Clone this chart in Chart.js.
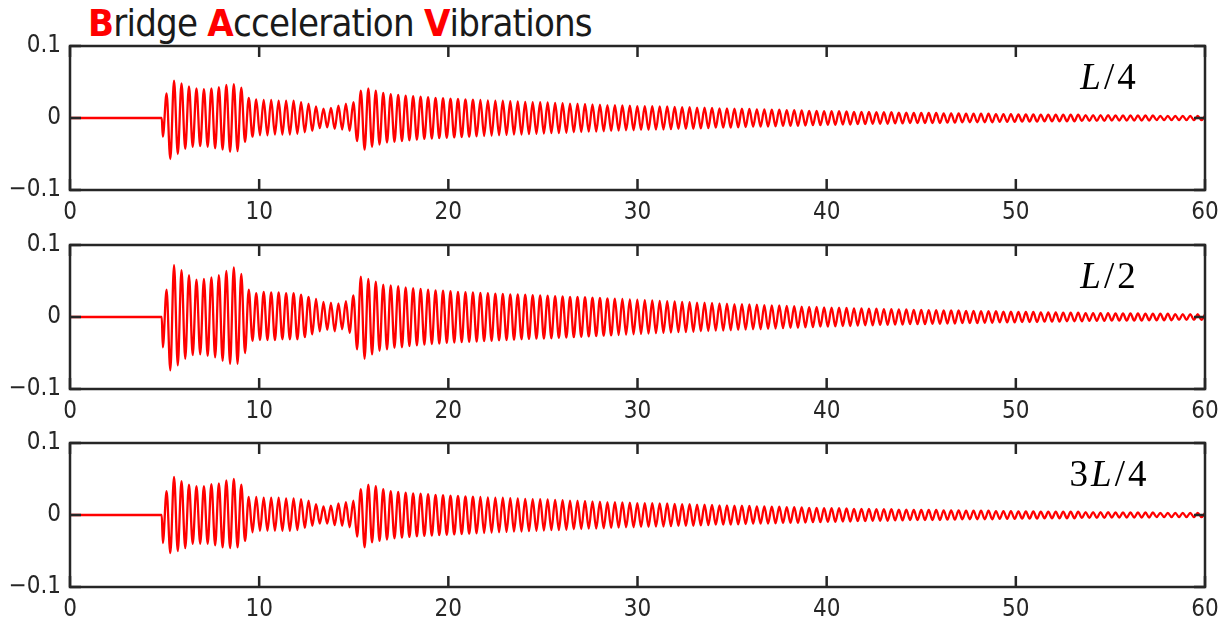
<!DOCTYPE html>
<html>
<head>
<meta charset="utf-8">
<script src="https://cdn.jsdelivr.net/npm/chart.js@4.4.1/dist/chart.umd.min.js"></script>
<style>
  html, body { margin: 0; padding: 0; background: #fff; }
  body { width: 1223px; height: 622px; position: relative; overflow: hidden; }
  #title {
    position: absolute; left: 88px; top: 4px; line-height: 1;
    font-family: 'Liberation Sans Narrow', 'DejaVu Sans Condensed', sans-serif;
    font-size: 38px; letter-spacing: -0.8px; color: #1a1a1a; white-space: nowrap;
  }
  #title b { color: #ff0000; }
  canvas { position: absolute; left: 0; display: block; }
</style>
</head>
<body>
<div id="title"><b>B</b>ridge <b>A</b>cceleration <b>V</b>ibrations</div>
<canvas id="c0" width="1223" height="200"></canvas>
<canvas id="c1" width="1223" height="200"></canvas>
<canvas id="c2" width="1223" height="200"></canvas>
<script>
// time axis of the record (s)
const xTicks = [0, 10, 20, 30, 40, 50, 60];
const yTicks = [-0.1, 0, 0.1];
const yTickLabels = ['\u22120.1', '0', '0.1'];
const panelLabels = ['L/4', 'L/2', '3L/4'];

// flat until the first axle reaches the bridge, then one extreme every half period
const onsetTime = 4.85;
const firstPeakTime = 4.9075;
const halfPeriod = 0.1975;

// peak / trough values, in 1e-3 units
const accL4 = [
  -26, 34, -57, 52, -50, 48, -43, 44, -40, 41,
  -39, 40, -40, 41, -42, 43, -44, 46, -47, 47,
  -46, 42, -33, 28, -26, 26, -24, 25, -24, 25,
  -23, 24, -23, 24, -23, 24, -22, 22, -20, 20,
  -18, 16, -14, 13, -13, 14, -15, 17, -16, 20,
  -18, 22, -32, 38, -44, 41, -40, 38, -37, 35,
  -34, 33, -33, 32, -32, 31, -31, 30.5, -30, 29.5,
  -29, 29, -28.5, 28, -28, 27.5, -27.5, 27, -27, 26.5,
  -26.5, 26, -26, 25.5, -25.5, 25, -25, 24.5, -24.5, 24,
  -24, 24, -23.5, 23.5, -23, 23, -23, 22.5, -22.5, 22,
  -22, 22, -21.5, 21.5, -21, 21, -21, 20.5, -20.5, 20,
  -20, 20, -19.5, 19.5, -19, 19, -19, 18.5, -18.5, 18,
  -18, 18, -17.5, 17.5, -17, 17, -17, 16.5, -16.5, 16.5,
  -16.5, 16.5, -16, 16, -16, 16, -15.5, 15.5, -15, 15,
  -15, 15, -15, 14.5, -14.5, 14.5, -14, 14, -13.5, 13.5,
  -13.5, 13.5, -13.5, 13, -13, 13, -12.5, 12.5, -12, 12,
  -12, 12, -12, 11.5, -11.5, 11.5, -11, 11, -11, 11,
  -11, 10.5, -10.5, 10, -10, 10, -10, 9.5, -9.5, 9.5,
  -9.5, 9.5, -9, 9, -9, 8.5, -8.5, 8.5, -8.5, 8.5,
  -8, 8, -8, 8, -8, 8, -7.5, 7.5, -7.5, 7.5,
  -7, 7, -7, 7, -7, 7, -7, 7, -7, 6.5,
  -6.5, 6.5, -6.5, 6.5, -6, 6, -6, 6, -6, 6,
  -6, 6, -6, 5.5, -5.5, 5.5, -5.5, 5.5, -5.5, 5,
  -5, 5, -5, 5, -5, 4.5, -4.5, 4.5, -4.5, 4.5,
  -4.5, 4.5, -4.5, 4.5, -4.5, 4.5, -4, 4, -4, 4,
  -4, 4, -4, 4, -3.5, 3.5, -3.5, 3.5, -3.5, 3.5,
  -3.5, 3.5, -3.5, 3.5, -3.5, 3.5, -3, 3, -3, 3,
  -3, 3, -3, 3, -3, 3, -3, 3, -3, 3
];

const accL2 = [
  -42, 38, -74, 72, -67, 65, -58, 58, -53, 52,
  -52, 53, -54, 55, -56, 58, -61, 64, -65, 69,
  -65, 60, -50, 38, -33, 33, -32, 35, -32, 34,
  -32, 34, -31, 33, -31, 33, -31, 31, -28, 28,
  -24, 25, -20, 21, -18, 20, -20, 19, -17, 22,
  -22, 30, -45, 56, -58, 53, -52, 49, -47, 45,
  -45, 44, -43, 43, -42, 41, -40.5, 40, -39.5, 39,
  -38.5, 38, -37.5, 37, -37, 36.5, -36, 36, -35.5, 35,
  -35, 34.5, -34.5, 34, -34, 33.5, -33.5, 33, -33, 32.5,
  -32.5, 32, -32, 31.5, -31.5, 31.5, -31, 31, -30.5, 30.5,
  -30, 30, -30, 29.5, -29.5, 29, -29, 28.5, -28.5, 28,
  -28, 28, -27.5, 27.5, -27, 27, -26.5, 26.5, -26, 26,
  -25.5, 25.5, -25, 25, -24.5, 24.5, -24, 24, -23.5, 23.5,
  -23, 23, -22.5, 22.5, -22, 22, -21.5, 21.5, -21, 21,
  -21, 20.5, -20.5, 20, -20, 20, -19.5, 19.5, -19, 19,
  -19, 18.5, -18.5, 18, -18, 18, -17.5, 17.5, -17, 17,
  -17, 16.5, -16.5, 16, -16, 16, -15.5, 15.5, -15, 15,
  -15, 14.5, -14.5, 14, -14, 14, -13.5, 13.5, -13.5, 13,
  -13, 13, -12.5, 12.5, -12.5, 12, -12, 12, -11.5, 11.5,
  -11.5, 11.5, -11, 11, -11, 11, -10.5, 10.5, -10.5, 10.5,
  -10, 10, -10, 10, -10, 9.5, -9.5, 9.5, -9.5, 9,
  -9, 9, -9, 9, -8.5, 8.5, -8.5, 8.5, -8.5, 8,
  -8, 8, -8, 8, -7.5, 7.5, -7.5, 7.5, -7.5, 7,
  -7, 7, -7, 7, -7, 6.5, -6.5, 6.5, -6.5, 6.5,
  -6.5, 6, -6, 6, -6, 6, -6, 5.5, -5.5, 5.5,
  -5.5, 5.5, -5.5, 5.5, -5, 5, -5, 5, -5, 5,
  -5, 5, -5, 4.5, -4.5, 4.5, -4.5, 4.5, -4.5, 4.5,
  -4.5, 4, -4, 4, -4, 4, -4, 4, -4, 4
];

const acc3L4 = [
  -39, 33, -53, 53, -50, 47, -46, 42, -40, 40,
  -40, 40, -40, 43, -42, 44, -45, 48, -46, 50,
  -45, 42, -36, 25, -24, 25, -22, 24, -22, 24,
  -22, 24, -22, 23, -22, 23, -21, 22, -18, 20,
  -15, 15, -12, 12, -12, 13, -14, 16, -15, 18,
  -17, 20, -30, 36, -45, 42, -38, 40, -36, 36,
  -34, 33, -32.5, 32, -31.5, 31, -30.5, 30, -29.5, 29.5,
  -29, 29, -28.5, 28, -28, 27.5, -27.5, 27, -27, 26.5,
  -26.5, 26, -26, 25.5, -25.5, 25, -25, 24.5, -24.5, 24,
  -24, 24, -23.5, 23.5, -23, 23, -23, 22.5, -22.5, 22,
  -22, 22, -21.5, 21.5, -21, 21, -21, 20.5, -20.5, 20,
  -20, 20, -19.5, 19.5, -19, 19, -19, 18.5, -18.5, 18,
  -18, 18, -17.5, 17.5, -17, 17, -17, 16.5, -16.5, 16.5,
  -16.5, 16.5, -16, 16, -16, 16, -15.5, 15.5, -15, 15,
  -15, 15, -15, 14.5, -14.5, 14.5, -14, 14, -13.5, 13.5,
  -13.5, 13.5, -13.5, 13, -13, 13, -12.5, 12.5, -12, 12,
  -12, 12, -12, 11.5, -11.5, 11.5, -11, 11, -11, 11,
  -11, 10.5, -10.5, 10, -10, 10, -10, 9.5, -9.5, 9.5,
  -9.5, 9.5, -9, 9, -9, 8.5, -8.5, 8.5, -8.5, 8.5,
  -8, 8, -8, 8, -8, 8, -7.5, 7.5, -7.5, 7.5,
  -7, 7, -7, 7, -7, 7, -7, 7, -7, 6.5,
  -6.5, 6.5, -6.5, 6.5, -6, 6, -6, 6, -6, 6,
  -6, 6, -6, 5.5, -5.5, 5.5, -5.5, 5.5, -5.5, 5,
  -5, 5, -5, 5, -5, 4.5, -4.5, 4.5, -4.5, 4.5,
  -4.5, 4.5, -4.5, 4.5, -4.5, 4.5, -4, 4, -4, 4,
  -4, 4, -4, 4, -3.5, 3.5, -3.5, 3.5, -3.5, 3.5,
  -3.5, 3.5, -3.5, 3.5, -3.5, 3.5, -3, 3, -3, 3,
  -3, 3, -3, 3, -3, 3, -3, 3, -3, 3
];

// layout (px)
const panelTops = [46, 245, 443];
const padTop = 16;
const plotHeight = 144;
const canvasHeight = 200;
const tickLen = 11;
const axisColor = '#262626';
const tickFont = { family: "'Liberation Sans Narrow', 'DejaVu Sans Condensed', sans-serif", size: 24 };

function build_points(vals) {
  const pts = [{ x: 0, y: 0 }, { x: onsetTime, y: 0 }];
  vals.forEach((v, i) => pts.push({ x: firstPeakTime + i * halfPeriod, y: v / 1000 }));
  return pts;
}

// box, inward ticks and panel label drawn over the trace
const frame_plugin = {
  id: 'frame',
  afterDatasetsDraw(chart, args, opts) {
    const { ctx, chartArea: a, scales } = chart;
    const x = scales.x, y = scales.y;
    ctx.save();
    ctx.strokeStyle = axisColor;
    ctx.lineWidth = 2.5;
    ctx.beginPath();
    xTicks.forEach(v => {
      const px = x.getPixelForValue(v);
      ctx.moveTo(px, a.top); ctx.lineTo(px, a.top + tickLen);
      ctx.moveTo(px, a.bottom); ctx.lineTo(px, a.bottom - tickLen);
    });
    yTicks.forEach(v => {
      const py = y.getPixelForValue(v);
      ctx.moveTo(a.left, py); ctx.lineTo(a.left + tickLen, py);
      ctx.moveTo(a.right, py); ctx.lineTo(a.right - tickLen, py);
    });
    ctx.stroke();
    ctx.strokeRect(a.left, a.top, a.right - a.left, a.bottom - a.top);

    // label like "3L/4": letters italic, the rest upright
    const text = opts.label;
    const size = 37;
    const gap = 3;
    const parts = text.split('').map(ch => ({
      ch, font: (/[A-Za-z]/.test(ch) ? 'italic ' : '') + size + "px 'Liberation Serif', 'DejaVu Serif', serif"
    }));
    let total = 0;
    parts.forEach(p => { ctx.font = p.font; p.w = ctx.measureText(p.ch).width; total += p.w; });
    total += gap * (parts.length - 1);
    let cx = 1108 - total / 2;
    const base = a.top + 43;
    ctx.fillStyle = '#000';
    ctx.textBaseline = 'alphabetic';
    ctx.textAlign = 'left';
    parts.forEach(p => { ctx.font = p.font; ctx.fillText(p.ch, cx, base); cx += p.w + gap; });
    ctx.restore();
  }
};

function make_panel(idx, vals) {
  const cv = document.getElementById('c' + idx);
  cv.style.top = (panelTops[idx] - padTop) + 'px';
  return new Chart(cv.getContext('2d'), {
    type: 'line',
    data: {
      datasets: [{
        data: build_points(vals),
        borderColor: '#ff0000',
        borderWidth: 2.3,
        pointRadius: 0,
        fill: false,
        cubicInterpolationMode: 'monotone'
      }]
    },
    options: {
      responsive: false,
      animation: false,
      events: [],
      layout: { padding: { top: padTop, right: 18, left: 0, bottom: 0 } },
      plugins: { legend: { display: false }, tooltip: { enabled: false }, frame: { label: panelLabels[idx] } },
      scales: {
        x: {
          type: 'linear', min: 0, max: 60,
          afterFit: s => { s.height = canvasHeight - padTop - plotHeight; },
          afterBuildTicks: s => { s.ticks = xTicks.map(v => ({ value: v })); },
          grid: { display: false },
          border: { display: false },
          ticks: { color: axisColor, font: tickFont, padding: 0, maxRotation: 0, autoSkip: false }
        },
        y: {
          type: 'linear', min: -0.1, max: 0.1,
          afterFit: s => { s.width = 70; },
          afterBuildTicks: s => { s.ticks = yTicks.map(v => ({ value: v })); },
          grid: { display: false },
          border: { display: false },
          ticks: {
            color: axisColor, font: tickFont, padding: 1,
            callback: v => yTickLabels[yTicks.findIndex(t => Math.abs(t - v) < 1e-9)]
          }
        }
      }
    },
    plugins: [frame_plugin]
  });
}

make_panel(0, accL4);
make_panel(1, accL2);
make_panel(2, acc3L4);
</script>
</body>
</html>
